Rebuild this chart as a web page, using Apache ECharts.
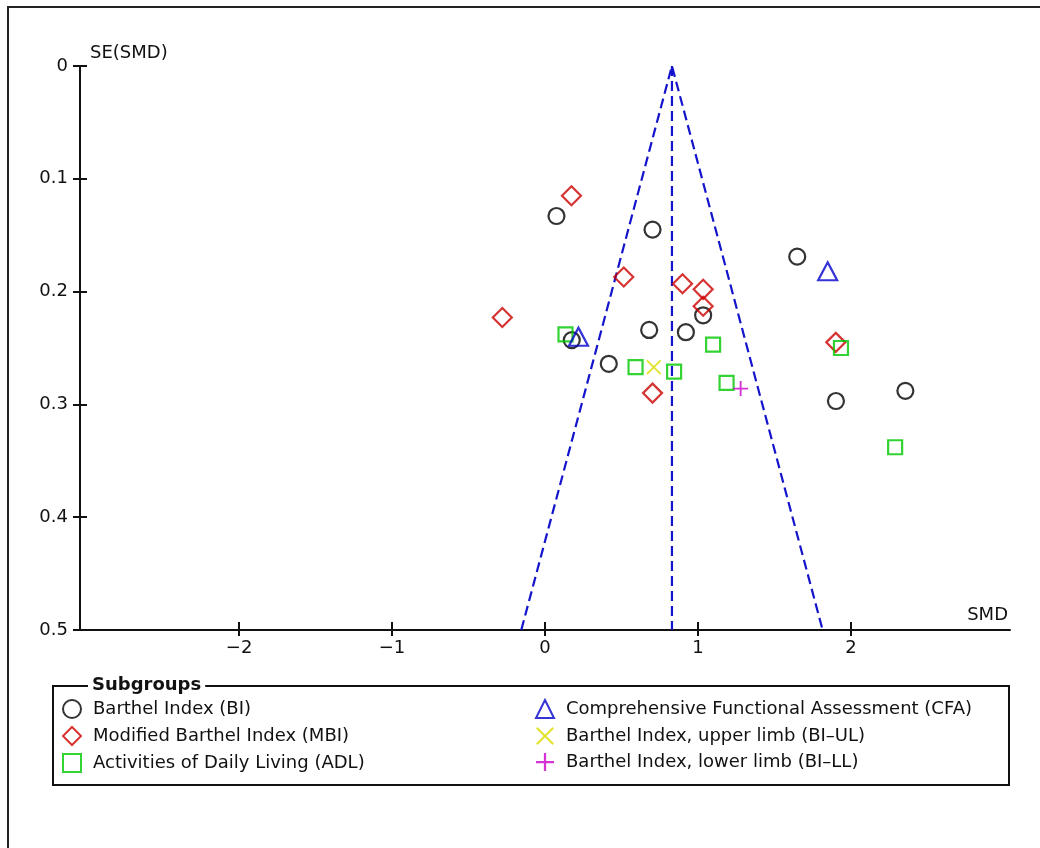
<!DOCTYPE html>
<html>
<head>
<meta charset="utf-8">
<script src="https://cdn.jsdelivr.net/npm/echarts@6/dist/echarts.min.js"></script>
<style>
  html, body { margin: 0; padding: 0; background: #fff; }
  #chart { width: 1040px; height: 848px; }
</style>
</head>
<body>
<div id="chart"></div>
<script>
// Funnel plot: standardised mean difference (SMD) against its standard error, by outcome subgroup.

const subgroupNames = [
  'Barthel Index (BI)',
  'Modified Barthel Index (MBI)',
  'Activities of Daily Living (ADL)',
  'Comprehensive Functional Assessment (CFA)',
  'Barthel Index, upper limb (BI\u2013UL)',
  'Barthel Index, lower limb (BI\u2013LL)'
];

// [SMD, SE(SMD)] per study
const biPoints = [
  [0.075, 0.133], [0.703, 0.145], [1.034, 0.221], [0.175, 0.243], [0.681, 0.234],
  [0.921, 0.236], [0.417, 0.264], [1.649, 0.169], [1.902, 0.297], [2.356, 0.288]
];
const mbiPoints = [
  [0.173, 0.115], [0.515, 0.187], [0.899, 0.193], [1.034, 0.198],
  [1.034, 0.213], [-0.279, 0.223], [0.703, 0.290], [1.901, 0.245]
];
const adlPoints = [
  [0.134, 0.238], [1.099, 0.247], [0.592, 0.267], [0.844, 0.271],
  [1.187, 0.281], [1.935, 0.250], [2.289, 0.338]
];
const cfaPoints = [[0.219, 0.240], [1.848, 0.182]];
const biUlPoints = [[0.711, 0.267]];
const biLlPoints = [[1.279, 0.286]];

// Pooled estimate line and 95% pseudo-confidence limits
const funnelCentre = [[0.83, 0], [0.83, 0.5]];
const funnelLimits = [[-0.155, 0.5], [0.83, 0], [1.815, 0.5]];

const smdTicks = [-2, -1, 0, 1, 2];

const FONT = '"DejaVu Sans", Verdana, sans-serif';
const INK = '#111';

const crossPath = 'path://M7,0 H9 V7 H16 V9 H9 V16 H7 V9 H0 V7 H7 Z';
const xPath = 'path://M0,1.4 L1.4,0 L16,14.6 L14.6,16 Z M14.6,0 L16,1.4 L1.4,16 L0,14.6 Z';

const hollow = (c) => ({ color: 'rgba(0,0,0,0)', borderColor: c, borderWidth: 2.2 });

const chart = echarts.init(document.getElementById('chart'), null, { renderer: 'canvas' });

const minusFmt = (v) => String(v).replace('-', '\u2212');

const legendBase = {
  orient: 'vertical', top: 699,
  itemWidth: 18, itemHeight: 18, padding: 0,
  selectedMode: false,
  textStyle: { fontSize: 18, color: INK, fontFamily: FONT, padding: [0, 0, 0, 7] }
};

chart.setOption({
  animation: false,
  backgroundColor: '#fff',
  textStyle: { fontFamily: FONT },
  grid: { left: 80, right: 30, top: 66, bottom: 218, containLabel: false },
  xAxis: [
    {
      type: 'value', min: -3.04, max: 3.04, position: 'bottom',
      name: 'SMD', nameLocation: 'end', nameGap: 0,
      nameTextStyle: { fontSize: 18, color: INK, fontFamily: FONT, align: 'right', verticalAlign: 'bottom', padding: [0, 2, 6, 0] },
      axisLine: { show: true, onZero: false, lineStyle: { color: INK, width: 2 } },
      axisTick: { show: true, inside: false, length: 6, customValues: smdTicks, lineStyle: { color: INK, width: 2 } },
      axisLabel: { show: true, customValues: smdTicks, margin: 9, fontSize: 18, color: INK, fontFamily: FONT, formatter: minusFmt },
      splitLine: { show: false }
    },
    {
      type: 'value', min: -3.04, max: 3.04, position: 'bottom',
      axisLine: { show: false, onZero: false },
      axisTick: { show: true, inside: true, length: 8, customValues: smdTicks, lineStyle: { color: INK, width: 2 } },
      axisLabel: { show: false },
      splitLine: { show: false }
    }
  ],
  yAxis: [
    {
      type: 'value', min: 0, max: 0.5, interval: 0.1, inverse: true, position: 'left',
      name: 'SE(SMD)', nameLocation: 'start', nameGap: 4,
      nameTextStyle: { fontSize: 18, color: INK, fontFamily: FONT, align: 'left', verticalAlign: 'bottom', padding: [0, 0, 0, 10] },
      axisLine: { show: true, onZero: false, lineStyle: { color: INK, width: 2 } },
      axisTick: { show: true, inside: false, length: 7, lineStyle: { color: INK, width: 2 } },
      axisLabel: { show: true, margin: 12, fontSize: 18, color: INK, fontFamily: FONT },
      splitLine: { show: false }
    },
    {
      type: 'value', min: 0, max: 0.5, interval: 0.1, inverse: true, position: 'left',
      axisLine: { show: false, onZero: false },
      axisTick: { show: true, inside: true, length: 7, lineStyle: { color: INK, width: 2 } },
      axisLabel: { show: false },
      splitLine: { show: false }
    }
  ],
  legend: [
    Object.assign({ data: subgroupNames.slice(0, 3), left: 62, itemGap: 7 }, legendBase),
    Object.assign({ data: subgroupNames.slice(3, 6), left: 535, itemGap: 8 }, legendBase)
  ],
  graphic: [
    { type: 'rect', silent: true, z: 0, shape: { x: 8, y: 7, width: 1100, height: 1000 },
      style: { fill: 'none', stroke: '#222', lineWidth: 2 } },
    { type: 'rect', silent: true, z: 0, shape: { x: 53, y: 686, width: 956, height: 99 },
      style: { fill: 'none', stroke: INK, lineWidth: 2 } },
    { type: 'text', silent: true, z: 10, x: 88, y: 685,
      style: { text: 'Subgroups', fontSize: 18, fontWeight: 'bold', fontFamily: FONT, fill: INK,
               verticalAlign: 'middle', backgroundColor: '#fff', padding: [0, 4] } }
  ],
  series: [
    { type: 'line', data: funnelLimits, symbol: 'none', silent: true, z: 1,
      lineStyle: { color: '#1414cc', width: 2.2, type: [10, 5] } },
    { type: 'line', data: funnelCentre, symbol: 'none', silent: true, z: 1,
      lineStyle: { color: '#1414cc', width: 2.2, type: [10, 5] } },
    { name: subgroupNames[0], type: 'scatter', data: biPoints, symbol: 'circle', symbolSize: 16,
      itemStyle: hollow('#000'), z: 3 },
    { name: subgroupNames[1], type: 'scatter', data: mbiPoints, symbol: 'diamond', symbolSize: 19,
      itemStyle: hollow('#cc0000'), z: 3 },
    { name: subgroupNames[2], type: 'scatter', data: adlPoints, symbol: 'rect', symbolSize: 14,
      itemStyle: hollow('#00c800'), z: 3 },
    { name: subgroupNames[3], type: 'scatter', data: cfaPoints, symbol: 'triangle', symbolSize: [19, 18],
      itemStyle: hollow('#0000cc'), z: 3 },
    { name: subgroupNames[4], type: 'scatter', data: biUlPoints, symbol: xPath, symbolSize: 15,
      itemStyle: { color: '#dcdc00' }, z: 3 },
    { name: subgroupNames[5], type: 'scatter', data: biLlPoints, symbol: crossPath, symbolSize: 15,
      itemStyle: { color: '#cc00cc' }, z: 3 }
  ]
});
</script>
</body>
</html>
